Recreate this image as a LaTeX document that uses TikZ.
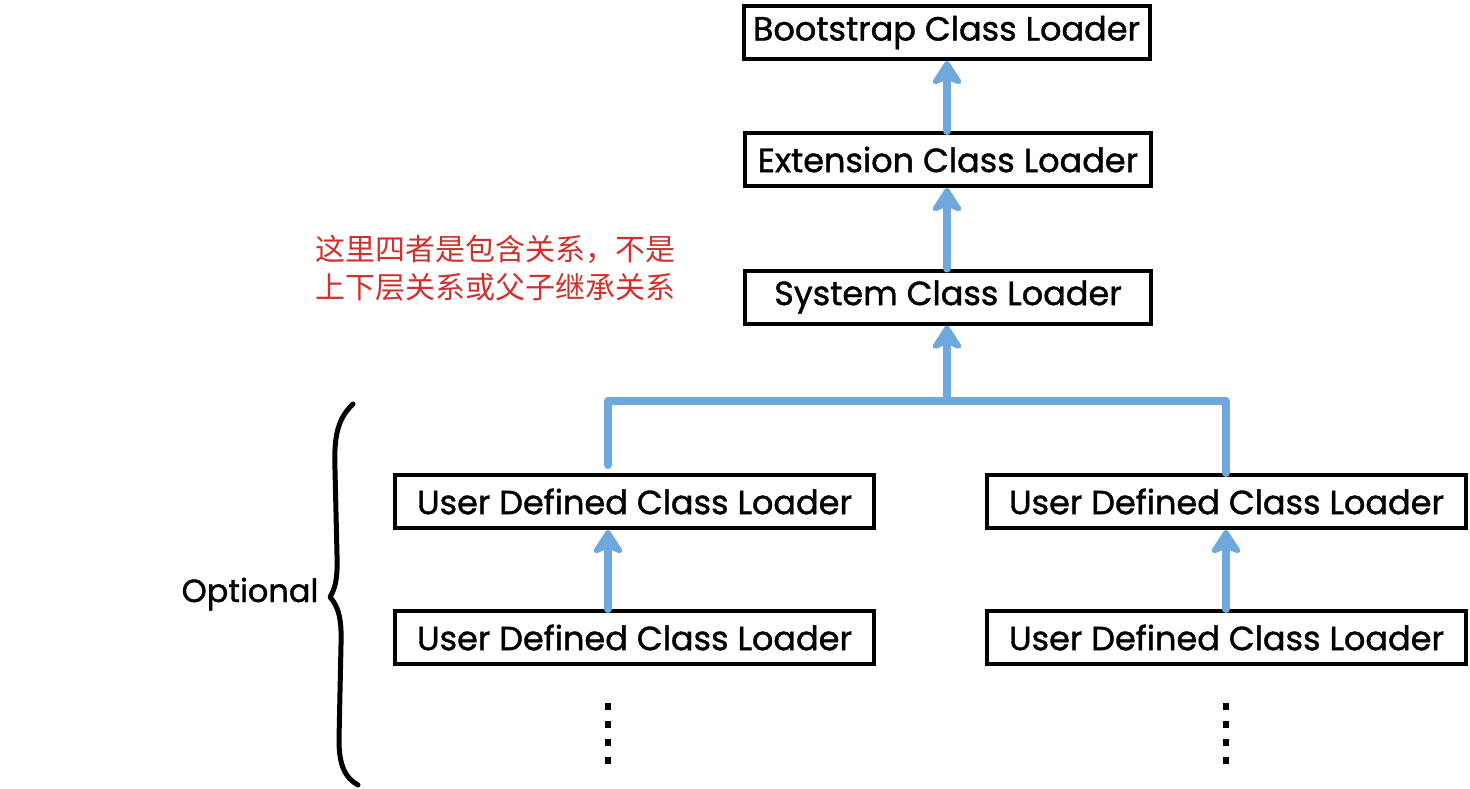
\documentclass[tikz,border=0pt]{standalone}
\usepackage{fontspec}
\setmainfont{Poppins}
\newfontfamily\boxfont{Poppins}[FakeBold=1.2]
\newfontfamily\cjk{Noto Sans CJK SC}
\usetikzlibrary{arrows.meta,calc}
\definecolor{arrowblue}{HTML}{6FA8DC}
\definecolor{notered}{HTML}{D0312D}
\tikzset{
  loaderbox/.style={draw=black,line width=4pt,rectangle,minimum height=53pt,inner sep=0pt,font=\boxfont\fontsize{33.5}{36}\selectfont},
  topbox/.style={loaderbox,minimum width=406pt},
  userbox/.style={loaderbox,minimum width=479pt},
  flow/.style={draw=arrowblue,line width=8pt,line cap=round,line join=round},
  flowarrow/.style={flow,-{Stealth[length=28pt,width=36pt,inset=7pt,round]}},
  moredots/.style={draw=black,line width=6pt,dash pattern=on 7pt off 11pt},
  bracestyle/.style={draw=black,line width=5pt,line cap=round,line join=round}
}
\begin{document}
\begin{tikzpicture}[x=1pt,y=-1pt]
\useasboundingbox (0,0) rectangle (1470,788);
\node[topbox] (boot) at (946.5,32.5) {Bootstrap Class Loader};
\node[topbox] (ext) at (948,159.5) {Extension Class Loader};
\node[topbox] (sys) at (948,297) {System Class Loader};
\node[userbox] (ul1) at (634.5,501.5) {User Defined Class Loader};
\node[userbox] (ur1) at (1226.5,501.5) {User Defined Class Loader};
\node[userbox] (ul2) at (634.5,637.5) {User Defined Class Loader};
\node[userbox] (ur2) at (1226.5,637.5) {User Defined Class Loader};
\coordinate (jL) at (608,401);
\coordinate (jM) at (947,401);
\coordinate (jR) at (1226,401);
\coordinate (dL) at (608,703);
\coordinate (dR) at (1226,703);
% arrows
\draw[flowarrow] (ext.north -| jM) -- (boot.south -| jM);
\draw[flowarrow] (sys.north -| jM) -- (ext.south -| jM);
\draw[flowarrow] (jM) -- (sys.south -| jM);
\draw[flow] ($(ul1.north -| jL)+(0,-8)$) -- (jL) -- (jR) -- (ur1.north -| jR);
\draw[flowarrow] (ul2.north -| jL) -- (ul1.south -| jL);
\draw[flowarrow] (ur2.north -| jR) -- (ur1.south -| jR);
% dots
\draw[moredots] (dL) -- ++(0,72);
\draw[moredots] (dR) -- ++(0,72);
% brace
\draw[bracestyle] (353,404) .. controls (336,420) and (334,440) .. (335,470) -- (337,555) .. controls (338,582) and (334,590) .. (330,597) .. controls (338,606) and (342,618) .. (341,645) -- (339,740) .. controls (339,765) and (345,778) .. (358,785);
\node[font=\boxfont\fontsize{32}{36}\selectfont] (opt) at (250,594) {Optional};
% note
\node[anchor=north west,align=left,text=notered,inner sep=0pt,font=\cjk\fontsize{30}{38}\selectfont] (note) at (315,235) {这里四者是包含关系，不是\\上下层关系或父子继承关系};
\end{tikzpicture}
\end{document}
